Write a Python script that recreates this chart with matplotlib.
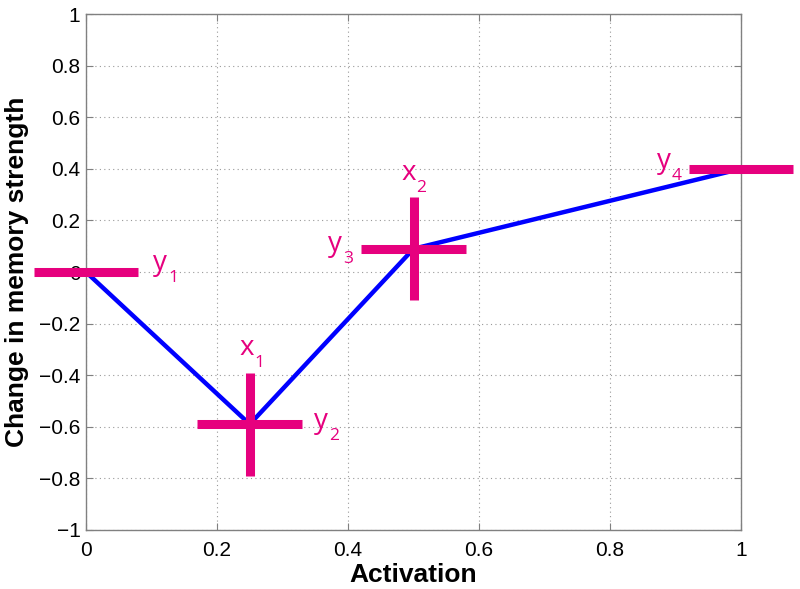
import matplotlib
matplotlib.use("Agg")
import matplotlib.pyplot as plt
from matplotlib.ticker import FuncFormatter

plt.rcParams['font.family'] = ['Liberation Sans', 'DejaVu Sans']

# data
line_x = [0.0, 0.25, 0.5, 1.0]
line_y = [0.0, -0.59, 0.09, 0.4]
y_bar_x = [0.0, 0.25, 0.5, 1.0]
y_bar_y = [0.0, -0.59, 0.09, 0.4]
y_bar_half = 0.08
x_bar_x = [0.25, 0.5]
x_bar_y = [-0.59, 0.09]
x_bar_half = 0.2
label_base = ['y', 'y', 'x', 'x', 'y', 'y']
label_sub = ['1', '2', '1', '2', '3', '4']
label_x = [0.113, 0.358, 0.245, 0.492, 0.380, 0.882]
label_y = [0.008, -0.605, -0.322, 0.357, 0.081, 0.403]

MAG = '#E6007E'

fig = plt.figure(figsize=(8, 5.89), dpi=100)
ax = fig.add_axes([0.1075, 0.1002, 0.8188, 0.8760])

ax.plot(line_x, line_y, color='#0000FF', lw=3.2, zorder=3, solid_capstyle='butt')
for xc, yc in zip(y_bar_x, y_bar_y):
    ax.plot([xc - y_bar_half, xc + y_bar_half], [yc, yc], color=MAG, lw=6.5,
            solid_capstyle='butt', clip_on=False, zorder=4)
for xc, yc in zip(x_bar_x, x_bar_y):
    ax.plot([xc, xc], [yc - x_bar_half, yc + x_bar_half], color=MAG, lw=6.5,
            solid_capstyle='butt', clip_on=False, zorder=4)
for b, s, tx, ty in zip(label_base, label_sub, label_x, label_y):
    ax.text(tx, ty, b, color=MAG, fontsize=20, family='Open Sans',
            ha='center', va='baseline', zorder=5)
    ax.annotate(s, (tx, ty), xytext=(9.6, -8.6), textcoords='offset points',
                color=MAG, fontsize=12.5, family='Open Sans',
                ha='center', va='baseline', zorder=5)

ax.set_xlim(0, 1)
ax.set_ylim(-1, 1)
ax.set_xticks([0, 0.2, 0.4, 0.6, 0.8, 1])
ax.set_yticks([-1, -0.8, -0.6, -0.4, -0.2, 0, 0.2, 0.4, 0.6, 0.8, 1])

def fmt(v, pos):
    s = ('%g' % round(v, 2))
    return s.replace('-', '\u2212')

ax.xaxis.set_major_formatter(FuncFormatter(fmt))
ax.yaxis.set_major_formatter(FuncFormatter(fmt))
ax.tick_params(direction='in', top=True, right=True, labelsize=15,
               length=5, color='#808080')
ax.tick_params(axis='x', pad=8)
ax.tick_params(axis='y', pad=4)
for s in ax.spines.values():
    s.set_color('#808080')
    s.set_linewidth(1)
ax.grid(True, linestyle=(0, (1, 3)), color='#999999', lw=0.8)
ax.set_axisbelow(True)

ax.set_xlabel('Activation', fontsize=19, fontweight='bold', labelpad=2)
ax.set_ylabel('Change in memory strength', fontsize=19, fontweight='bold', labelpad=7)

fig.savefig('out.png', dpi=100)
